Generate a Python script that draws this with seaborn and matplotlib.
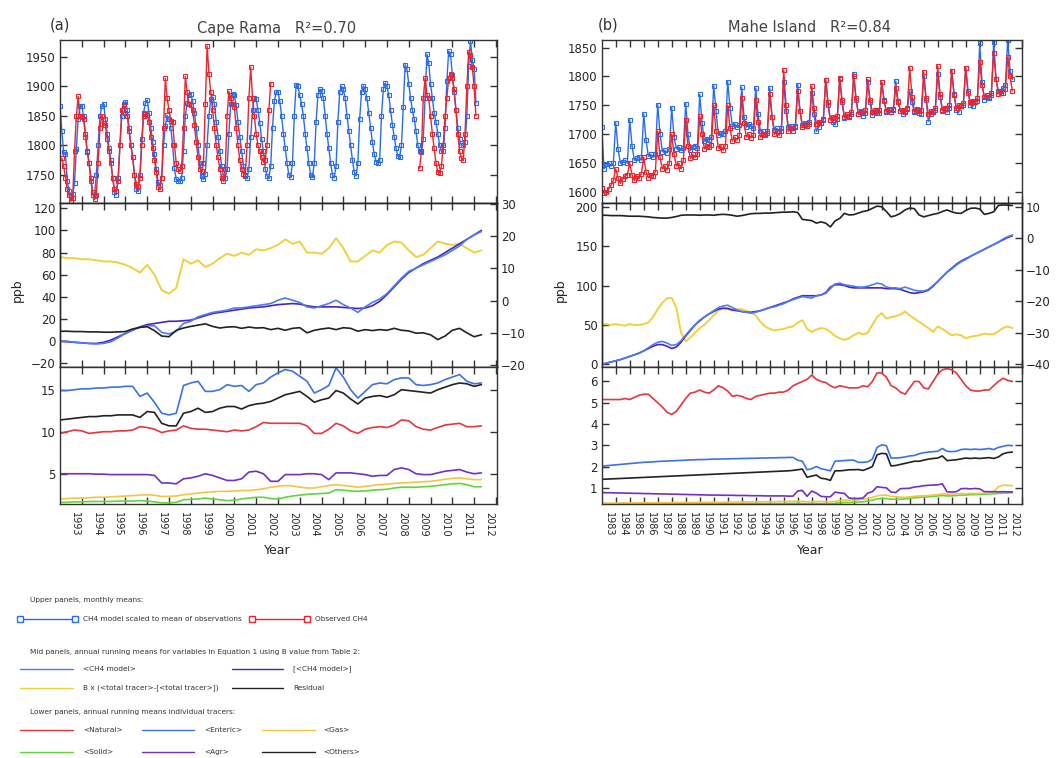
import numpy as np
import pandas as pd
import seaborn as sns
import matplotlib
matplotlib.use("Agg")
import matplotlib.pyplot as plt
from matplotlib import font_manager
from matplotlib.lines import Line2D

# ---------------- DATA ----------------
# Cape Rama, upper panel: monthly means starting Jan 1992 (rows = years, Jan..Dec)
cape_model_monthly = [
    [1867, 1825, 1789, 1786, 1739, 1722, 1714, 1717, 1736, 1794, 1845, 1866],
    [1867, 1850, 1815, 1789, 1770, 1740, 1716, 1714, 1750, 1800, 1850, 1866],
    [1871, 1845, 1820, 1795, 1775, 1745, 1720, 1716, 1745, 1800, 1850, 1870],
    [1874, 1860, 1830, 1800, 1780, 1750, 1725, 1722, 1750, 1810, 1855, 1872],
    [1877, 1855, 1830, 1805, 1785, 1760, 1738, 1733, 1745, 1800, 1833, 1851],
    [1845, 1830, 1800, 1761, 1742, 1739, 1739, 1745, 1790, 1850, 1872, 1886],
    [1888, 1875, 1855, 1830, 1800, 1770, 1748, 1742, 1752, 1800, 1850, 1878],
    [1882, 1870, 1840, 1815, 1790, 1765, 1748, 1744, 1760, 1820, 1870, 1888],
    [1885, 1868, 1840, 1815, 1790, 1765, 1748, 1744, 1760, 1815, 1860, 1880],
    [1878, 1860, 1838, 1810, 1790, 1760, 1748, 1745, 1765, 1830, 1875, 1890],
    [1891, 1875, 1850, 1820, 1795, 1770, 1750, 1746, 1770, 1850, 1903, 1900],
    [1885, 1870, 1850, 1820, 1795, 1770, 1750, 1746, 1770, 1840, 1885, 1895],
    [1892, 1880, 1850, 1820, 1795, 1770, 1750, 1745, 1765, 1840, 1890, 1900],
    [1895, 1880, 1850, 1825, 1800, 1775, 1755, 1748, 1770, 1845, 1890, 1901],
    [1895, 1880, 1855, 1830, 1805, 1785, 1772, 1770, 1775, 1850, 1895, 1906],
    [1900, 1885, 1860, 1835, 1815, 1795, 1782, 1780, 1800, 1865, 1937, 1930],
    [1905, 1880, 1860, 1845, 1825, 1800, 1790, 1788, 1810, 1880, 1955, 1940],
    [1905, 1880, 1855, 1840, 1820, 1800, 1790, 1790, 1830, 1910, 1960, 1955],
    [1920, 1890, 1860, 1830, 1810, 1800, 1800, 1805, 1850, 1935, 1978, 1945],
    [1930, 1872],
]
# observed CH4 at Cape Rama: segment 1 from Feb 1992, segment 2 from Jul 2008
cape_obs_seg1 = [
    [1778, 1765, 1745, 1725, 1715, 1705, 1710, 1790, 1850, 1883, 1850],
    [1848, 1845, 1820, 1790, 1770, 1745, 1720, 1708, 1715, 1770, 1830, 1850],
    [1838, 1835, 1810, 1790, 1770, 1745, 1725, 1722, 1740, 1800, 1860, 1869],
    [1855, 1850, 1825, 1800, 1780, 1750, 1735, 1731, 1745, 1800, 1850, 1853],
    [1852, 1840, 1815, 1795, 1775, 1755, 1730, 1725, 1745, 1830, 1914, 1880],
    [1860, 1842, 1840, 1800, 1770, 1760, 1756, 1765, 1830, 1917, 1890, 1870],
    [1868, 1860, 1835, 1805, 1780, 1760, 1756, 1770, 1870, 1969, 1922, 1890],
    [1860, 1830, 1800, 1780, 1760, 1745, 1739, 1760, 1850, 1892, 1880, 1870],
    [1865, 1830, 1800, 1775, 1760, 1752, 1750, 1800, 1880, 1933, 1880, 1850],
    [1820, 1800, 1790, 1780, 1772, 1775, 1800, 1860, 1905],
]
cape_obs_seg2 = [
    [1761, 1790, 1880, 1914, 1886, 1880],
    [1850, 1820, 1795, 1770, 1755, 1753, 1765, 1800, 1850, 1880, 1915, 1922],
    [1915, 1895, 1860, 1820, 1790, 1778, 1775, 1820, 1900, 1958, 1953, 1933],
    [1900, 1850],
]

# Mahe Island, upper panel: bimonthly points (Jan, Mar, May, Jul, Sep, Nov) from 1982
mahe_model_bimonthly = [
    [1713, 1640, 1648, 1650, 1645, 1650], [1720, 1675, 1650, 1652, 1655, 1650],
    [1725, 1680, 1655, 1658, 1660, 1655], [1735, 1690, 1662, 1665, 1660, 1665],
    [1751, 1700, 1670, 1672, 1668, 1675], [1746, 1695, 1675, 1678, 1672, 1676],
    [1753, 1700, 1672, 1678, 1680, 1676], [1769, 1720, 1688, 1692, 1690, 1695],
    [1784, 1740, 1698, 1702, 1700, 1705], [1791, 1745, 1715, 1718, 1712, 1716],
    [1781, 1730, 1712, 1718, 1715, 1710], [1780, 1735, 1706, 1705, 1700, 1705],
    [1780, 1730, 1708, 1710, 1705, 1710], [1790, 1740, 1712, 1715, 1710, 1715],
    [1786, 1740, 1716, 1720, 1718, 1722], [1772, 1735, 1705, 1712, 1720, 1725],
    [1794, 1750, 1725, 1722, 1718, 1726], [1796, 1755, 1728, 1732, 1730, 1735],
    [1805, 1760, 1735, 1738, 1732, 1737], [1790, 1755, 1733, 1738, 1740, 1736],
    [1790, 1760, 1738, 1742, 1738, 1742], [1792, 1758, 1740, 1735, 1740, 1744],
    [1775, 1755, 1738, 1742, 1740, 1735], [1800, 1760, 1722, 1735, 1740, 1742],
    [1805, 1765, 1740, 1744, 1738, 1745], [1810, 1770, 1742, 1738, 1748, 1750],
    [1815, 1775, 1750, 1748, 1755, 1758], [1857, 1790, 1760, 1765, 1762, 1768],
    [1860, 1795, 1775, 1772, 1780, 1785], [1863, 1810, 1795],
]
mahe_obs_bimonthly = [
    [1607, 1598, 1600, 1605, 1612, 1620], [1640, 1625, 1615, 1622, 1628, 1630],
    [1650, 1630, 1620, 1628, 1625, 1632], [1660, 1635, 1625, 1630, 1628, 1635],
    [1705, 1660, 1640, 1645, 1638, 1650], [1700, 1665, 1645, 1650, 1640, 1655],
    [1725, 1680, 1658, 1665, 1660, 1665], [1731, 1700, 1675, 1680, 1678, 1682],
    [1750, 1705, 1676, 1680, 1672, 1680], [1750, 1710, 1688, 1695, 1690, 1698],
    [1762, 1720, 1695, 1700, 1694, 1698], [1760, 1722, 1695, 1700, 1698, 1702],
    [1770, 1730, 1700, 1705, 1698, 1706], [1811, 1750, 1705, 1710, 1706, 1712],
    [1775, 1740, 1712, 1716, 1714, 1718], [1783, 1745, 1718, 1722, 1720, 1726],
    [1794, 1755, 1725, 1730, 1728, 1732], [1797, 1760, 1730, 1735, 1732, 1738],
    [1800, 1762, 1735, 1740, 1736, 1742], [1795, 1760, 1738, 1742, 1736, 1742],
    [1790, 1758, 1740, 1744, 1738, 1744], [1780, 1755, 1740, 1742, 1738, 1745],
    [1815, 1765, 1740, 1744, 1736, 1742], [1808, 1762, 1735, 1740, 1738, 1745],
    [1818, 1770, 1742, 1746, 1744, 1750], [1810, 1768, 1745, 1750, 1748, 1754],
    [1815, 1772, 1755, 1758, 1756, 1762], [1825, 1785, 1765, 1768, 1765, 1772],
    [1840, 1795, 1770, 1775, 1772, 1778], [1833, 1800, 1775],
]

# Cape Rama, mid + lower panels: 3 values per year from 1992.0
cape_mid_model = [0, 0, -1, -1.5, -2, -2.5, -2, -0.5, 3, 7, 10, 12.5, 14, 14, 8, 6.5, 9, 16,
                  18, 22, 24, 26, 27, 28, 30, 30, 31, 32, 33, 34, 37, 39, 37, 35, 31, 30,
                  32, 34, 37, 33, 30, 26, 31, 35, 38, 43, 50, 57, 63, 66, 69, 72, 75, 78,
                  82, 86, 92, 96, 99]
cape_mid_smooth = [0, -0.5, -1, -1.5, -2, -2, -1, 1, 4, 7, 10, 13, 15, 16, 17, 18, 18, 18.5,
                   19, 21, 23, 25, 26, 27, 28, 29, 30, 30.5, 31, 32, 33, 33.5, 34, 33.5, 32, 31,
                   31, 31, 31, 30.5, 30, 29.5, 30, 32, 36, 42, 49, 56, 62, 66, 70, 73, 76, 80,
                   84, 88, 92, 96, 100]
cape_mid_tracer = [76, 75, 75, 74, 74, 73, 72, 72, 71, 69, 66, 62, 69, 60, 46, 43, 48, 74,
                   70, 73, 67, 70, 75, 79, 77, 80, 78, 83, 82, 84, 87, 92, 88, 90, 80, 80,
                   79, 84, 93, 84, 72, 72, 77, 82, 80, 87, 90, 89, 82, 76, 78, 84, 90, 88,
                   87, 88, 84, 80, 82]
cape_mid_resid = [-9.5, -9.5, -9.6, -9.6, -9.7, -9.7, -9.8, -9.8, -9.7, -9.6, -8.8, -8.3,
                  -8.1, -9.3, -11.0, -11.2, -9.2, -8.5, -8.0, -7.6, -7.2, -8.0, -8.5, -8.2,
                  -8.1, -8.6, -8.2, -8.5, -8.4, -9.0, -8.6, -9.2, -8.6, -8.4, -10.0, -9.2,
                  -8.8, -8.5, -9.0, -8.4, -8.6, -9.5, -9.0, -9.3, -9.0, -9.2, -8.6, -9.2,
                  -9.4, -10.1, -10.0, -10.6, -12.1, -11.0, -9.2, -8.6, -10.0, -11.2, -10.6]
cape_natural = [9.8, 10.0, 10.2, 10.1, 9.8, 9.9, 10.0, 10.0, 10.1, 10.1, 10.2, 10.6, 10.5, 10.3,
                9.9, 10.1, 10.2, 10.7, 10.4, 10.3, 10.3, 10.2, 10.1, 10.0, 10.2, 10.1, 10.2,
                10.6, 11.1, 11.0, 11.0, 11.0, 11.0, 11.0, 10.7, 9.8, 9.8, 10.3, 11.0, 10.7,
                10.1, 9.8, 10.3, 10.5, 10.6, 10.5, 10.8, 11.4, 11.3, 10.6, 10.3, 10.2, 10.5,
                10.8, 10.9, 11.0, 10.6, 10.6, 10.7]
cape_enteric = [14.9, 14.9, 15.0, 15.1, 15.1, 15.2, 15.2, 15.3, 15.3, 15.4, 15.4, 14.2, 14.6,
                13.5, 12.2, 12.0, 12.2, 15.5, 15.8, 16.0, 14.8, 14.8, 15.0, 15.6, 15.4, 15.5,
                14.8, 15.6, 15.8, 16.5, 17.0, 17.4, 17.2, 16.6, 16.0, 14.6, 15.0, 15.5, 17.6,
                16.5, 15.0, 14.0, 14.8, 15.6, 15.8, 15.7, 16.2, 16.4, 16.4, 15.6, 15.5, 15.6,
                15.8, 16.2, 16.5, 16.8, 16.0, 15.7, 15.8]
cape_gas = [2.0, 2.05, 2.1, 2.1, 2.15, 2.2, 2.2, 2.25, 2.3, 2.35, 2.4, 2.45, 2.5, 2.45, 2.3,
            2.3, 2.35, 2.5, 2.6, 2.7, 2.8, 2.85, 2.9, 2.9, 2.95, 3.0, 3.0, 3.1, 3.2, 3.4, 3.5,
            3.6, 3.55, 3.4, 3.3, 3.3, 3.45, 3.6, 3.7, 3.6, 3.5, 3.4, 3.5, 3.6, 3.7, 3.75, 3.85,
            3.9, 3.95, 4.0, 4.05, 4.1, 4.2, 4.35, 4.45, 4.5, 4.4, 4.3, 4.3]
cape_solid = [1.6, 1.6, 1.65, 1.65, 1.7, 1.7, 1.7, 1.7, 1.75, 1.75, 1.75, 1.8, 1.75, 1.65, 1.55,
              1.55, 1.6, 1.9, 1.95, 2.0, 2.1, 2.0, 1.9, 1.8, 1.85, 2.0, 2.1, 2.2, 2.2, 2.05, 2.0,
              2.2, 2.35, 2.45, 2.55, 2.6, 2.65, 2.7, 3.1, 3.05, 2.95, 2.9, 2.95, 3.05, 3.1, 3.15,
              3.3, 3.4, 3.4, 3.4, 3.45, 3.5, 3.6, 3.7, 3.8, 3.85, 3.7, 3.45, 3.45]
cape_agr = [5.0, 5.0, 5.0, 5.0, 5.0, 4.95, 4.95, 4.9, 4.9, 4.9, 4.9, 4.9, 4.9, 4.8, 3.9, 3.9,
            3.8, 4.4, 4.5, 4.7, 5.0, 4.8, 4.5, 4.2, 4.2, 4.4, 5.2, 5.3, 5.0, 4.1, 4.1, 4.9, 4.9,
            4.9, 5.0, 5.0, 4.9, 4.3, 5.1, 5.1, 5.1, 5.0, 4.9, 4.7, 4.8, 4.8, 5.5, 5.7, 5.5, 5.0,
            4.9, 4.9, 5.1, 5.3, 5.4, 5.5, 5.2, 5.0, 5.1]
cape_others = [11.4, 11.5, 11.6, 11.7, 11.8, 11.8, 11.9, 11.9, 12.0, 12.0, 12.0, 11.7, 12.4,
               12.3, 11.0, 10.7, 10.7, 12.2, 12.4, 12.8, 12.3, 12.4, 12.8, 13.0, 13.0, 12.7,
               13.1, 13.3, 13.4, 13.6, 14.0, 14.4, 14.6, 14.8, 14.2, 13.5, 13.8, 14.0, 14.9,
               14.6, 13.9, 13.3, 14.0, 14.2, 14.3, 14.1, 14.4, 15.0, 14.9, 14.8, 14.7, 14.6,
               15.0, 15.3, 15.6, 15.8, 15.7, 15.4, 15.6]

# Mahe Island, mid + lower panels: 3 values per year from 1982.0
mahe_mid_model = [0, 1.5, 3, 4.5, 6, 8, 10, 12, 14.5, 17, 21, 25, 28, 29, 27, 24, 25, 30, 37, 44,
                  50, 56, 60, 64, 68, 72, 74, 75, 72, 69, 67, 66, 65, 66, 68, 70, 72, 73, 75, 77,
                  80, 82, 84, 86, 85, 84, 87, 88, 90, 96, 102, 103, 101, 100, 99, 98, 98, 99,
                  101, 103, 102, 98, 97, 97, 96, 98, 96, 94, 93, 93, 95, 100, 105, 111, 117, 121,
                  126, 130, 133, 137, 140, 143, 146, 149, 152, 155, 159, 162, 164]
mahe_mid_smooth = [0, 1.5, 3, 4.5, 6, 8, 10, 12, 14, 17, 20, 23, 25, 25, 23, 20, 22, 28, 36, 43,
                   50, 55, 60, 64, 67, 70, 71, 71, 69, 68, 67, 66, 66, 67, 68, 70, 72, 74, 76, 78,
                   80, 83, 85, 87, 87, 87, 87, 88, 91, 98, 101, 101, 100, 98, 97, 97, 97, 97, 97,
                   97, 97, 96, 96, 96, 95, 93, 91, 90, 91, 92, 94, 99, 105, 111, 117, 122, 127,
                   131, 134, 137, 140, 143, 146, 149, 152, 155, 158, 161, 163]
mahe_mid_tracer = [51, 51, 50, 51, 50, 49, 51, 50, 50, 51, 53, 60, 70, 78, 84, 84, 72, 40, 29, 34,
                   40, 46, 50, 56, 62, 68, 72, 70, 68, 70, 70, 68, 66, 62, 54, 48, 45, 43, 44, 45,
                   47, 48, 53, 56, 45, 41, 44, 46, 45, 41, 36, 33, 31, 33, 37, 40, 38, 40, 50, 60,
                   65, 58, 60, 61, 63, 67, 62, 58, 54, 50, 46, 41, 48, 45, 41, 37, 38, 37, 33, 35,
                   36, 37, 39, 38, 38, 42, 46, 48, 46]
mahe_mid_resid = [7.3, 7.3, 7.2, 7.2, 7.2, 7.1, 7.0, 7.0, 7.0, 6.9, 6.8, 6.6, 6.5, 6.4, 6.4, 6.6,
                  6.9, 7.3, 7.4, 7.4, 7.4, 7.3, 7.4, 7.4, 7.3, 7.5, 7.6, 7.5, 7.3, 7.0, 7.2, 7.5,
                  7.8, 7.9, 7.9, 8.0, 8.0, 8.1, 8.2, 8.3, 8.3, 8.4, 8.2, 6.0, 5.8, 5.6, 4.8, 5.2,
                  4.8, 3.6, 5.5, 6.3, 7.9, 7.4, 7.5, 8.0, 8.5, 8.8, 9.5, 10.2, 10.0, 8.5, 6.8, 7.2,
                  7.9, 9.0, 9.6, 9.4, 7.4, 6.8, 7.2, 7.6, 7.9, 8.5, 9.0, 8.4, 8.0, 7.9, 8.8, 9.5,
                  9.6, 9.3, 7.6, 7.9, 8.4, 10.4, 10.6, 10.5, 10.4]
mahe_natural = [5.15, 5.15, 5.15, 5.15, 5.15, 5.2, 5.15, 5.25, 5.35, 5.4, 5.4, 5.2, 5.0, 4.8,
                4.55, 4.45, 4.6, 4.9, 5.2, 5.45, 5.5, 5.6, 5.5, 5.45, 5.6, 5.8, 5.7, 5.55, 5.3,
                5.35, 5.3, 5.2, 5.15, 5.3, 5.35, 5.4, 5.45, 5.45, 5.5, 5.5, 5.6, 5.8, 5.9, 6.0,
                6.1, 6.3, 6.1, 6.0, 5.95, 5.8, 5.7, 5.8, 5.75, 5.7, 5.7, 5.7, 5.8, 5.75, 6.0,
                6.4, 6.4, 6.2, 5.8, 5.7, 5.5, 5.4, 5.7, 6.0, 6.0, 5.7, 5.65, 6.0, 6.35, 6.55,
                6.6, 6.55, 6.4, 6.1, 5.8, 5.6, 5.55, 5.55, 5.6, 5.6, 5.8, 6.0, 6.15, 6.05, 6.0]
mahe_enteric = [2.02, 2.04, 2.06, 2.08, 2.1, 2.12, 2.14, 2.16, 2.18, 2.2, 2.21, 2.22, 2.24, 2.25,
                2.26, 2.27, 2.28, 2.29, 2.3, 2.31, 2.32, 2.33, 2.33, 2.34, 2.35, 2.35, 2.36,
                2.36, 2.37, 2.37, 2.38, 2.38, 2.39, 2.39, 2.4, 2.4, 2.41, 2.41, 2.42, 2.42, 2.43,
                2.43, 2.3, 2.25, 1.85, 1.9, 2.0, 1.9, 1.85, 1.8, 2.25, 2.27, 2.28, 2.3, 2.3, 2.2,
                2.2, 2.22, 2.35, 2.9, 3.02, 2.98, 2.4, 2.4, 2.42, 2.45, 2.5, 2.52, 2.6, 2.65,
                2.68, 2.7, 2.72, 2.85, 2.72, 2.7, 2.72, 2.8, 2.82, 2.8, 2.82, 2.8, 2.82, 2.85,
                2.8, 2.9, 2.95, 3.0, 2.98]
mahe_gas = [0.28, 0.28, 0.28, 0.28, 0.29, 0.29, 0.29, 0.29, 0.29, 0.3, 0.3, 0.3,
            0.3, 0.3, 0.3, 0.3, 0.31, 0.31, 0.31, 0.31, 0.31, 0.32, 0.32, 0.32,
            0.32, 0.32, 0.32, 0.33, 0.33, 0.33, 0.33, 0.34, 0.34, 0.34, 0.34, 0.35,
            0.35, 0.35, 0.36, 0.36, 0.36, 0.37, 0.37, 0.36, 0.35, 0.35, 0.36, 0.36,
            0.36, 0.34, 0.36, 0.4, 0.42, 0.42, 0.43, 0.44, 0.46, 0.5, 0.55, 0.62,
            0.65, 0.66, 0.6, 0.58, 0.56, 0.55, 0.58, 0.6, 0.62, 0.63, 0.64, 0.66,
            0.68, 0.72, 0.7, 0.7, 0.72, 0.73, 0.72, 0.74, 0.73, 0.74, 0.75, 0.76,
            0.8, 1.05, 1.12, 1.12, 1.1]
mahe_solid = [0.25, 0.25, 0.25, 0.25, 0.25, 0.25, 0.25, 0.25, 0.25, 0.25, 0.25, 0.25,
              0.25, 0.25, 0.25, 0.25, 0.25, 0.25, 0.25, 0.25, 0.25, 0.25, 0.25, 0.25,
              0.25, 0.25, 0.25, 0.25, 0.26, 0.26, 0.26, 0.26, 0.26, 0.26, 0.26, 0.26,
              0.26, 0.26, 0.26, 0.26, 0.27, 0.27, 0.27, 0.26, 0.26, 0.26, 0.26, 0.26,
              0.26, 0.25, 0.27, 0.3, 0.31, 0.31, 0.32, 0.33, 0.34, 0.38, 0.42, 0.48,
              0.5, 0.5, 0.47, 0.46, 0.46, 0.48, 0.5, 0.53, 0.55, 0.57, 0.58, 0.6,
              0.62, 0.64, 0.62, 0.62, 0.64, 0.66, 0.66, 0.68, 0.68, 0.69, 0.7, 0.71,
              0.72, 0.74, 0.75, 0.76, 0.77]
mahe_agr = [0.78, 0.77, 0.77, 0.76, 0.76, 0.75, 0.75, 0.74, 0.74, 0.73, 0.73, 0.72, 0.72, 0.71,
            0.71, 0.7, 0.7, 0.69, 0.69, 0.68, 0.68, 0.67, 0.67, 0.66, 0.66, 0.66, 0.65, 0.65,
            0.65, 0.64, 0.64, 0.64, 0.63, 0.63, 0.63, 0.62, 0.62, 0.62, 0.62, 0.62, 0.61, 0.61,
            0.85, 0.88, 0.6, 0.85, 0.75, 0.6, 0.58, 0.58, 0.8, 0.76, 0.74, 0.52, 0.5, 0.5,
            0.52, 0.75, 0.82, 1.05, 1.02, 1.0, 0.8, 0.78, 0.96, 0.97, 0.98, 1.04, 1.06, 1.1,
            1.12, 1.13, 1.14, 1.19, 0.81, 0.8, 0.82, 0.96, 0.97, 0.95, 0.97, 0.95, 0.82, 0.82,
            0.82, 0.81, 0.82, 0.81, 0.81]
mahe_others = [1.4, 1.41, 1.42, 1.43, 1.44, 1.45, 1.46, 1.47, 1.48, 1.49, 1.5, 1.51, 1.52, 1.53,
               1.54, 1.55, 1.56, 1.57, 1.58, 1.59, 1.6, 1.61, 1.62, 1.63, 1.64, 1.65, 1.66,
               1.67, 1.68, 1.69, 1.7, 1.71, 1.72, 1.73, 1.74, 1.75, 1.76, 1.77, 1.78, 1.79, 1.8,
               1.82, 1.85, 1.88, 1.5, 1.55, 1.6, 1.45, 1.42, 1.35, 1.8, 1.8, 1.82, 1.85, 1.85,
               1.86, 1.82, 1.9, 2.0, 2.55, 2.62, 2.6, 2.03, 2.05, 2.1, 2.15, 2.2, 2.25, 2.25,
               2.3, 2.35, 2.38, 2.4, 2.5, 2.28, 2.3, 2.32, 2.36, 2.4, 2.38, 2.4, 2.38, 2.4, 2.42,
               2.38, 2.45, 2.6, 2.66, 2.68]

cape_years = list(range(1993, 2013))
mahe_years = list(range(1983, 2013))

# ---------------- STYLE ----------------
sns.set_style("ticks")
avail = {f.name for f in font_manager.fontManager.ttflist}
NARROW = "Liberation Sans Narrow" if "Liberation Sans Narrow" in avail else None
plt.rcParams["font.family"] = [NARROW, "DejaVu Sans"] if NARROW else ["DejaVu Sans"]
if NARROW:
    YT, XT, LB, LEGFS = 11, 9, 10.5, 6.1
else:
    YT, XT, LB, LEGFS = 8.5, 7, 9, 5.3
plt.rcParams["axes.linewidth"] = 1.0

C_TOP_B, C_TOP_R = "#2a6cf0", "#f0222c"
C_MB, C_MP, C_MY, C_MK = "#4a7cf2", "#4a22c0", "#f2d03c", "#222222"
C_LR, C_LB, C_LY, C_LG, C_LP, C_LK = "#e8343c", "#3a72ea", "#f7c440", "#5fd63a", "#7030c4", "#222222"

W, H = 1063, 758
fig = plt.figure(figsize=(W / 100, H / 100), dpi=100)
fig.patch.set_facecolor("white")


def axes_at(x0, x1, y0, y1):
    return fig.add_axes([x0 / W, 1 - y1 / H, (x1 - x0) / W, (y1 - y0) / H])


def line(ax, t, v, color, lw=1.3, marker=None, ms=2.6):
    kw = dict(x=np.asarray(t, float), y=np.asarray(v, float), ax=ax, color=color,
              linewidth=lw, estimator=None, sort=False, legend=False, errorbar=None)
    if marker:
        kw.update(marker=marker, markersize=ms, markerfacecolor="none",
                  markeredgecolor=color, markeredgewidth=0.8)
    sns.lineplot(**kw)


def flat(rows):
    return np.concatenate([np.asarray(r, float) for r in rows])


def style(ax, xlim, years, off, labels):
    ax.set_xlim(*xlim)
    ax.set_xticks(years, minor=True)
    if labels:
        ax.set_xticks(np.array(years, float) - off)
        ax.set_xticklabels([str(y) for y in years], rotation=-90, fontsize=XT,
                           ha="center", va="top")
        ax.tick_params(axis="x", which="major", length=0, pad=6, top=False, bottom=True)
    else:
        ax.set_xticks([])
    ax.tick_params(axis="x", which="minor", direction="in", length=5, top=True,
                   bottom=True, width=1, color="#333333")
    for s in ax.spines.values():
        s.set_visible(True)
        s.set_color("#333333")
        s.set_linewidth(1.0)
    ax.tick_params(axis="y", direction="in", length=5, labelsize=YT, left=True,
                   right=True, pad=3, width=1, color="#333333")
    ax.set_xlabel("")
    ax.set_ylabel("")


columns = [
    dict(x=(60, 497), xlim=(1992.0, 2012.05), years=cape_years, off=0.32, t0=1992.0,
         top_ylim=(1702, 1979), top_ticks=[1750, 1800, 1850, 1900, 1950],
         mid_ylim=(-23.3, 124.8), mid_ticks=[-20, 0, 20, 40, 60, 80, 100, 120],
         r_ylim=(-20.6, 30.3), r_ticks=[-20, -10, 0, 10, 20, 30],
         low_ylim=(1.4, 17.7), low_ticks=[5, 10, 15],
         mid=(cape_mid_model, cape_mid_smooth, cape_mid_tracer, cape_mid_resid),
         low=(cape_natural, cape_enteric, cape_gas, cape_solid, cape_agr, cape_others)),
    dict(x=(601.7, 1021.7), xlim=(1982.0, 2012.0), years=mahe_years, off=0.5, t0=1982.0,
         top_ylim=(1581, 1863), top_ticks=[1600, 1650, 1700, 1750, 1800, 1850],
         mid_ylim=(-3.4, 204.7), mid_ticks=[0, 50, 100, 150, 200],
         r_ylim=(-40.9, 11.2), r_ticks=[-40, -30, -20, -10, 0, 10],
         low_ylim=(0.24, 6.68), low_ticks=[1, 2, 3, 4, 5, 6],
         mid=(mahe_mid_model, mahe_mid_smooth, mahe_mid_tracer, mahe_mid_resid),
         low=(mahe_natural, mahe_enteric, mahe_gas, mahe_solid, mahe_agr, mahe_others)),
]

for ci, col in enumerate(columns):
    x0, x1 = col["x"]
    t0 = col["t0"]
    # ---- upper panel
    axt = axes_at(x0, x1, 40, 203)
    if ci == 0:
        v = flat(cape_model_monthly)
        line(axt, t0 + np.arange(len(v)) / 12, v, C_TOP_B, lw=1.0, marker="s")
        o1 = flat(cape_obs_seg1)
        line(axt, 1992 + (1 + np.arange(len(o1))) / 12, o1, C_TOP_R, lw=1.0, marker="s")
        o2 = flat(cape_obs_seg2)
        line(axt, 2008.5 + np.arange(len(o2)) / 12, o2, C_TOP_R, lw=1.0, marker="s")
    else:
        v = flat(mahe_model_bimonthly)
        line(axt, t0 + np.arange(len(v)) / 6, v, C_TOP_B, lw=1.0, marker="s", ms=2.4)
        o = flat(mahe_obs_bimonthly)
        line(axt, t0 + np.arange(len(o)) / 6, o, C_TOP_R, lw=1.0, marker="s", ms=2.4)
    style(axt, col["xlim"], col["years"], col["off"], False)
    axt.set_ylim(*col["top_ylim"])
    axt.set_yticks(col["top_ticks"])

    # ---- mid panel
    axm = axes_at(x0, x1, 203, 367)
    model, smooth, tracer, resid = col["mid"]
    line(axm, t0 + np.arange(len(tracer)) / 3, tracer, C_MY, lw=1.4)
    line(axm, t0 + np.arange(len(smooth)) / 3, smooth, C_MP, lw=1.2)
    line(axm, t0 + np.arange(len(model)) / 3, model, C_MB, lw=1.2)
    style(axm, col["xlim"], col["years"], col["off"], False)
    axm.set_ylim(*col["mid_ylim"])
    axm.set_yticks(col["mid_ticks"])
    axr = axm.twinx()
    line(axr, t0 + np.arange(len(resid)) / 3, resid, C_MK, lw=1.2)
    axr.set_xlim(*col["xlim"])
    axr.set_ylim(*col["r_ylim"])
    axr.set_yticks(col["r_ticks"])
    axr.set_ylabel("")
    axr.tick_params(axis="y", direction="in", length=5, labelsize=YT, pad=3, width=1,
                    color="#333333")
    axm.tick_params(axis="y", right=False)

    # ---- lower panel
    axl = axes_at(x0, x1, 367, 504)
    nat, ent, gas, sol, agr, oth = col["low"]
    tl = t0 + np.arange(len(nat)) / 3
    line(axl, tl, sol, C_LG, lw=1.2)
    line(axl, tl, gas, C_LY, lw=1.2)
    line(axl, tl, agr, C_LP, lw=1.2)
    line(axl, tl, nat, C_LR, lw=1.2)
    line(axl, tl, oth, C_LK, lw=1.2)
    line(axl, tl, ent, C_LB, lw=1.2)
    style(axl, col["xlim"], col["years"], col["off"], True)
    axl.set_ylim(*col["low_ylim"])
    axl.set_yticks(col["low_ticks"])

# ---------------- TEXTS ----------------
TF = "DejaVu Sans"
fig.text(50 / W, 1 - 25 / H, "(a)", fontsize=10.5, family=TF, ha="left", va="center", color="#333")
fig.text(277 / W, 1 - 28 / H, "Cape Rama   R²=0.70", fontsize=10.5, family=TF, ha="center",
         va="center", color="#444")
fig.text(598 / W, 1 - 25 / H, "(b)", fontsize=10.5, family=TF, ha="left", va="center", color="#333")
fig.text(810 / W, 1 - 27 / H, "Mahe Island   R²=0.84", fontsize=10.5, family=TF, ha="center",
         va="center", color="#444")
for xx in (17, 560):
    fig.text(xx / W, 1 - 290 / H, "ppb", rotation=90, ha="center", va="center", fontsize=LB)
for xx in (277, 810):
    fig.text(xx / W, 1 - 551 / H, "Year", ha="center", va="center", fontsize=LB)

# ---------------- LEGEND (figure coordinates) ----------------


def ltext(x, y, s):
    return fig.text(x / W, 1 - y / H, s, ha="left", va="center", fontsize=LEGFS, color="#333")


def lline(xa, xb, y, color, ends=False):
    fig.add_artist(Line2D([xa / W, xb / W], [1 - y / H, 1 - y / H], transform=fig.transFigure,
                          color=color, lw=1.0))
    if ends:
        fig.add_artist(Line2D([xa / W, xb / W], [1 - y / H, 1 - y / H], transform=fig.transFigure,
                              color=color, lw=0, marker="s", markersize=5,
                              markerfacecolor="white", markeredgecolor=color, markeredgewidth=1))


ltext(30, 600, "Upper panels, monthly means:")
lline(20, 75, 619, C_TOP_B, ends=True)
ltext(83, 619, "CH4 model scaled to mean of observations")
lline(252, 307, 619, C_TOP_R, ends=True)
ltext(315, 619, "Observed CH4")
ltext(30, 652, "Mid panels, annual running means for variables in Equation 1 using B value from Table 2:")
lline(20, 73, 669, C_MB)
ltext(83, 669, "<CH4 model>")
lline(232, 283, 669, C_MP)
ltext(293, 669, "[<CH4 model>]")
lline(20, 73, 688, C_MY)
ltext(83, 688, "B x (<total tracer>-[<total tracer>])")
lline(232, 283, 688, C_MK)
ltext(293, 688, "Residual")
ltext(30, 712, "Lower panels, annual running means individual tracers:")
for (xa, xb, xt), (c1, s1), (c2, s2) in zip(
        [(20, 73, 83), (142, 194, 204), (262, 315, 323)],
        [(C_LR, "<Natural>"), (C_LB, "<Enteric>"), (C_LY, "<Gas>")],
        [(C_LG, "<Solid>"), (C_LP, "<Agr>"), (C_LK, "<Others>")]):
    lline(xa, xb, 730, c1)
    ltext(xt, 730, s1)
    lline(xa, xb, 752, c2)
    ltext(xt, 752, s2)

fig.savefig("out.png", dpi=100, facecolor="white")
